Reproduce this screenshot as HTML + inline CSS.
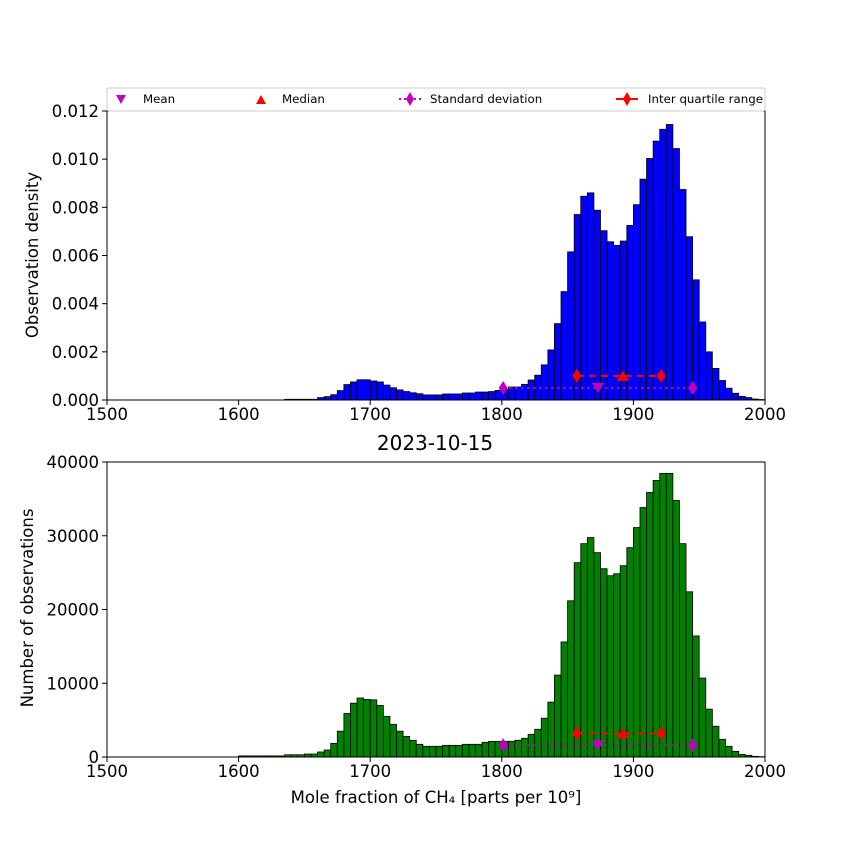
<!DOCTYPE html>
<html><head><meta charset="utf-8"><style>
body{margin:0;background:#fff}
svg text{font-family:"DejaVu Sans","Liberation Sans",sans-serif;fill:#000}
</style></head><body>
<svg id="c" width="850" height="850" xmlns="http://www.w3.org/2000/svg"></svg>
<script>
const binStarts = [];
for (let b = 1600; b < 2000; b += 5) binStarts.push(b);
const densityTop = [0,0,0,0,0,0,0,0.00003,0.00003,0.00003,0.00003,0.00003,0.0001,0.00014,0.00022,0.00039,0.00064,0.00075,0.00084,0.00084,
0.00079,0.00075,0.00062,0.00051,0.00042,0.00035,0.0003,0.00026,0.00021,0.00021,0.00021,0.00025,0.00025,0.00025,0.00029,0.00029,0.00033,0.00033,0.00035,0.0004,
0.00045,0.00054,0.00054,0.00065,0.00083,0.00103,0.00146,0.00208,0.00317,0.0045,0.00615,0.0077,0.00846,0.0086,0.00788,0.00703,0.00657,0.00642,0.0066,0.00725,
0.00811,0.00917,0.01003,0.01075,0.01124,0.01144,0.01044,0.00874,0.00678,0.00499,0.00324,0.002,0.00131,0.00081,0.00049,0.00028,0.00015,0.0001,0.00004,0.00002];
const countsBottom = [150,150,150,150,150,150,150,300,300,300,400,400,680,950,1850,3500,5900,7300,8000,7800,
7750,7000,5500,4430,3500,2800,2260,1720,1450,1450,1450,1580,1580,1580,1720,1720,1720,1990,2120,2120,
2130,2130,2270,2540,3080,3760,5260,7440,11110,15600,21180,26350,28930,29750,27710,25530,24580,24850,25940,28390,
31110,33830,35870,37500,38460,38460,34780,28930,22400,16420,10700,6490,4170,2400,1450,770,360,230,90,40];
const xTicks = [1500,1600,1700,1800,1900,2000];
const yTicksTop = [0,0.002,0.004,0.006,0.008,0.010,0.012];
const yTicksBottom = [0,10000,20000,30000,40000];
const statsX = {mean:1873, median:1892, sdLo:1801, sdHi:1945, iqrLo:1857, iqrHi:1921};
const statsYTop = {iqr:0.00100, sd:0.00050};
const statsYBottom = {iqr:3200, sd:1600};

const NS="http://www.w3.org/2000/svg", svg=document.getElementById('c');
function el(t,a,p){const e=document.createElementNS(NS,t);for(const k in a)e.setAttribute(k,a[k]);(p||svg).appendChild(e);return e;}
const X0=107,X1=765;
const sx=v=>X0+(v-1500)/500*(X1-X0);

function panel(name,yT,yB,ymax,data,color,ticks,fmt,stY){
  const sy=v=>yB-v/ymax*(yB-yT);
  const g=el('g',{});
  
  
  data.forEach((v,i)=>{
    const r=el('rect',{x:sx(binStarts[i]),y:sy(v),width:sx(binStarts[i]+5)-sx(binStarts[i]),height:yB-sy(v),fill:color,stroke:'#000','stroke-width':0.8},g);
    
    
  });
  const ys=sy(stY.sd), yi=sy(stY.iqr);
  el('line',{x1:sx(statsX.sdLo),x2:sx(statsX.sdHi),y1:ys,y2:ys,stroke:'#bf00bf','stroke-width':2,'stroke-dasharray':'2,4'},g);
  el('line',{x1:sx(statsX.iqrLo),x2:sx(statsX.iqrHi),y1:yi,y2:yi,stroke:'#f00','stroke-width':2,'stroke-dasharray':'7,5'},g);
  const dia=(x,y,c)=>el('polygon',{points:`${x},${y-7} ${x+4.5},${y} ${x},${y+7} ${x-4.5},${y}`,fill:c},g);
  dia(sx(statsX.sdLo),ys,'#bf00bf');dia(sx(statsX.sdHi),ys,'#bf00bf');
  dia(sx(statsX.iqrLo),yi,'#f00');dia(sx(statsX.iqrHi),yi,'#f00');
  const mx=sx(statsX.mean);
  el('polygon',{points:`${mx-6},${ys-5} ${mx+6},${ys-5} ${mx},${ys+5}`,fill:'#bf00bf'},g);
  const md=sx(statsX.median);
  el('polygon',{points:`${md-6},${yi+5} ${md+6},${yi+5} ${md},${yi-5}`,fill:'#f00'},g);
  el('rect',{x:X0,y:yT,width:X1-X0,height:yB-yT,fill:'none',stroke:'#000','stroke-width':1},g);
  xTicks.forEach(t=>{el('line',{x1:sx(t),x2:sx(t),y1:yB,y2:yB+5,stroke:'#000'},g);
    const tx=el('text',{x:sx(t),y:yB+20,'text-anchor':'middle','font-size':16.5},g);tx.textContent=t;});
  ticks.forEach(t=>{el('line',{x1:X0-5,x2:X0,y1:sy(t),y2:sy(t),stroke:'#000'},g);
    const tx=el('text',{x:X0-8,y:sy(t)+6,'text-anchor':'end','font-size':16.5},g);tx.textContent=fmt(t);});
}
panel('density-panel',111,400,0.012,densityTop,'#0000ff',yTicksTop,t=>t.toFixed(3),statsYTop);
panel('count-panel',462,757,40000,countsBottom,'#008000',yTicksBottom,t=>String(t),statsYBottom);
</script>
<svg width="850" height="850" style="position:absolute;left:0;top:0" xmlns="http://www.w3.org/2000/svg">
<g>
<rect x="107" y="88" width="658" height="23" rx="2" fill="#fff" stroke="#ccc"/>
<polygon points="116,95 126,95 121,104" fill="#bf00bf"/>
<text x="143" y="103" font-size="11.8">Mean</text>
<polygon points="256,104 266,104 261,95" fill="#f00"/>
<text x="282" y="103" font-size="11.8">Median</text>
<line x1="399" y1="99" x2="421" y2="99" stroke="#bf00bf" stroke-width="2" stroke-dasharray="2,3"/>
<polygon points="410,92 414,99 410,106 406,99" fill="#bf00bf"/>
<text x="430" y="103" font-size="11.8">Standard deviation</text>
<line x1="616" y1="99" x2="638" y2="99" stroke="#f00" stroke-width="2"/>
<polygon points="627,92 631,99 627,106 623,99" fill="#f00"/>
<text x="648" y="103" font-size="11.8">Inter quartile range</text>
</g>
<text x="435" y="450" text-anchor="middle" font-size="20">2023-10-15</text>
<text transform="translate(38,255) rotate(-90)" text-anchor="middle" font-size="16.5">Observation density</text>
<text transform="translate(33,608) rotate(-90)" text-anchor="middle" font-size="16.5">Number of observations</text>
<text x="436" y="803" text-anchor="middle" font-size="16.5">Mole fraction of CH₄ [parts per 10⁹]</text>
</svg>
</body></html>
